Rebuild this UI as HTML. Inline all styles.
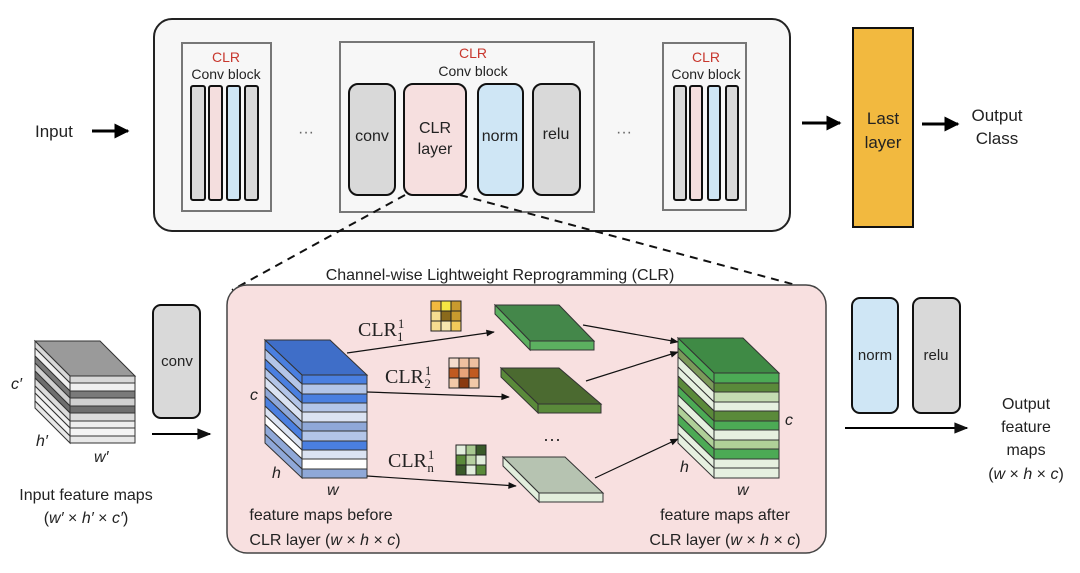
<!DOCTYPE html>
<html><head><meta charset="utf-8"><style>
html,body{margin:0;padding:0;background:#fff;}
svg{display:block;}
text{font-family:"Liberation Sans",sans-serif;fill:#222;}
.s{font-family:"Liberation Serif",serif;}
</style></head><body>
<svg width="1080" height="573" viewBox="0 0 1080 573" xmlns="http://www.w3.org/2000/svg">
<defs>
<marker id="a" viewBox="0 0 10 10" refX="9" refY="5" markerWidth="5" markerHeight="5" orient="auto"><path d="M0,0L10,5L0,10z" fill="#000"/></marker>
<marker id="b" viewBox="0 0 10 10" refX="9" refY="5" markerWidth="9" markerHeight="7" orient="auto"><path d="M0,1L10,5L0,9z" fill="#111"/></marker>
</defs>
<rect width="1080" height="573" fill="#fff"/>
<!-- Top -->
<text x="35" y="137" font-size="17">Input</text>
<line x1="92" y1="131" x2="128" y2="131" stroke="#000" stroke-width="3" marker-end="url(#a)"/>
<rect x="154" y="19" width="636" height="212" rx="18" fill="#f7f7f7" stroke="#222" stroke-width="2"/>
<!-- left block -->
<rect x="182" y="43" width="89" height="168" fill="#f7f7f7" stroke="#777" stroke-width="2"/>
<text x="226" y="62" font-size="14" text-anchor="middle" style="fill:#c8372d">CLR</text>
<text x="226" y="79" font-size="14" text-anchor="middle">Conv block</text>
<rect x="191" y="86" width="14" height="114" rx="2" fill="#d9d9d9" stroke="#111" stroke-width="2"/>
<rect x="209" y="86" width="13" height="114" rx="2" fill="#f4dede" stroke="#111" stroke-width="2"/>
<rect x="227" y="86" width="13" height="114" rx="2" fill="#cfe6f5" stroke="#111" stroke-width="2"/>
<rect x="245" y="86" width="13" height="114" rx="2" fill="#d9d9d9" stroke="#111" stroke-width="2"/>
<text x="306" y="137" font-size="16" text-anchor="middle" style="fill:#666">···</text>
<!-- middle block -->
<rect x="340" y="42" width="254" height="170" fill="#f7f7f7" stroke="#777" stroke-width="2"/>
<text x="473" y="58" font-size="14" text-anchor="middle" style="fill:#c8372d">CLR</text>
<text x="473" y="76" font-size="14" text-anchor="middle">Conv block</text>
<rect x="349" y="84" width="46" height="111" rx="9" fill="#d9d9d9" stroke="#111" stroke-width="2"/>
<rect x="404" y="84" width="62" height="111" rx="9" fill="#f6dfdf" stroke="#111" stroke-width="2"/>
<rect x="478" y="84" width="45" height="111" rx="9" fill="#cfe6f5" stroke="#111" stroke-width="2"/>
<rect x="533" y="84" width="47" height="111" rx="9" fill="#d9d9d9" stroke="#111" stroke-width="2"/>
<text x="372" y="141" font-size="16" text-anchor="middle">conv</text>
<text x="435" y="133" font-size="16" text-anchor="middle">CLR</text>
<text x="435" y="154" font-size="16" text-anchor="middle">layer</text>
<text x="500" y="141" font-size="16" text-anchor="middle">norm</text>
<text x="556" y="139" font-size="16" text-anchor="middle">relu</text>
<text x="624" y="137" font-size="16" text-anchor="middle" style="fill:#666">···</text>
<!-- right block -->
<rect x="663" y="43" width="83" height="167" fill="#f7f7f7" stroke="#777" stroke-width="2"/>
<text x="706" y="62" font-size="14" text-anchor="middle" style="fill:#c8372d">CLR</text>
<text x="706" y="79" font-size="14" text-anchor="middle">Conv block</text>
<rect x="674" y="86" width="12" height="114" rx="2" fill="#d9d9d9" stroke="#111" stroke-width="2"/>
<rect x="690" y="86" width="12" height="114" rx="2" fill="#f4dede" stroke="#111" stroke-width="2"/>
<rect x="708" y="86" width="12" height="114" rx="2" fill="#cfe6f5" stroke="#111" stroke-width="2"/>
<rect x="726" y="86" width="12" height="114" rx="2" fill="#d9d9d9" stroke="#111" stroke-width="2"/>
<line x1="802" y1="123" x2="840" y2="123" stroke="#000" stroke-width="3" marker-end="url(#a)"/>
<rect x="853" y="28" width="60" height="199" fill="#f2b93f" stroke="#111" stroke-width="2"/>
<text x="883" y="124" font-size="17" text-anchor="middle">Last</text>
<text x="883" y="148" font-size="17" text-anchor="middle">layer</text>
<line x1="922" y1="124" x2="958" y2="124" stroke="#000" stroke-width="3" marker-end="url(#a)"/>
<text x="997" y="121" font-size="17" text-anchor="middle">Output</text>
<text x="997" y="144" font-size="17" text-anchor="middle">Class</text>
<!-- dashed -->
<line x1="405" y1="195" x2="232" y2="290" stroke="#111" stroke-width="2" stroke-dasharray="8,6"/>
<line x1="460" y1="195" x2="822" y2="292" stroke="#111" stroke-width="2" stroke-dasharray="8,6"/>
<text x="500" y="280" font-size="16" text-anchor="middle">Channel-wise Lightweight Reprogramming (CLR)</text>
<!-- bottom pink -->
<rect x="227" y="285" width="599" height="268" rx="20" fill="#f8e0e0" stroke="#444" stroke-width="1.5"/>
<!-- input cube -->
<polygon points="35,341 100,341 135,376 70,376" fill="#9a9a9a" stroke="#333"/>
<g stroke="#333" stroke-width="1">
<rect x="70" y="376" width="65" height="7" fill="#d8d8d8"/><polygon points="70,376 70,383 35,348 35,341" fill="#d8d8d8"/>
<rect x="70" y="383" width="65" height="8" fill="#f0f0f0"/><polygon points="70,383 70,391 35,356 35,348" fill="#f0f0f0"/>
<rect x="70" y="391" width="65" height="7" fill="#7a7a7a"/><polygon points="70,391 70,398 35,363 35,356" fill="#7a7a7a"/>
<rect x="70" y="398" width="65" height="8" fill="#d0d0d0"/><polygon points="70,398 70,406 35,371 35,363" fill="#d0d0d0"/>
<rect x="70" y="406" width="65" height="7" fill="#6e6e6e"/><polygon points="70,406 70,413 35,378 35,371" fill="#6e6e6e"/>
<rect x="70" y="413" width="65" height="8" fill="#dcdcdc"/><polygon points="70,413 70,421 35,386 35,378" fill="#dcdcdc"/>
<rect x="70" y="421" width="65" height="7" fill="#eeeeee"/><polygon points="70,421 70,428 35,393 35,386" fill="#eeeeee"/>
<rect x="70" y="428" width="65" height="8" fill="#f4f4f4"/><polygon points="70,428 70,436 35,401 35,393" fill="#f4f4f4"/>
<rect x="70" y="436" width="65" height="7" fill="#e8e8e8"/><polygon points="70,436 70,443 35,408 35,401" fill="#e8e8e8"/>
</g>
<text x="11" y="389" font-size="16" font-style="italic">c′</text>
<text x="36" y="446" font-size="16" font-style="italic">h′</text>
<text x="94" y="462" font-size="16" font-style="italic">w′</text>
<text x="86" y="500" font-size="16" text-anchor="middle">Input feature maps</text>
<text x="86" y="523" font-size="16" text-anchor="middle">(<tspan font-style="italic">w′</tspan> × <tspan font-style="italic">h′</tspan> × <tspan font-style="italic">c′</tspan>)</text>
<rect x="153" y="305" width="47" height="113" rx="8" fill="#d9d9d9" stroke="#111" stroke-width="2"/>
<text x="177" y="366" font-size="15" text-anchor="middle">conv</text>
<line x1="152" y1="434" x2="210" y2="434" stroke="#000" stroke-width="2" marker-end="url(#b)"/>
<!-- blue cube -->
<polygon points="265,340 330,340 367,375 302,375" fill="#3f6ec8" stroke="#333"/>
<g stroke="#333" stroke-width="1">
<rect x="302" y="375" width="65" height="9" fill="#4a7fe0"/><polygon points="302,375 302,384 265,349 265,340" fill="#4a7fe0"/>
<rect x="302" y="384" width="65" height="10" fill="#b3c5e8"/><polygon points="302,384 302,394 265,359 265,349" fill="#b3c5e8"/>
<rect x="302" y="394" width="65" height="9" fill="#4a7fe0"/><polygon points="302,394 302,403 265,368 265,359" fill="#4a7fe0"/>
<rect x="302" y="403" width="65" height="9" fill="#b3c5e8"/><polygon points="302,403 302,412 265,377 265,368" fill="#b3c5e8"/>
<rect x="302" y="412" width="65" height="10" fill="#dbe3f2"/><polygon points="302,412 302,422 265,387 265,377" fill="#dbe3f2"/>
<rect x="302" y="422" width="65" height="9" fill="#8fa8d8"/><polygon points="302,422 302,431 265,396 265,387" fill="#8fa8d8"/>
<rect x="302" y="431" width="65" height="10" fill="#b3c5e8"/><polygon points="302,431 302,441 265,406 265,396" fill="#4a7fe0"/>
<rect x="302" y="441" width="65" height="9" fill="#4a7fe0"/><polygon points="302,441 302,450 265,415 265,406" fill="#dbe3f2"/>
<rect x="302" y="450" width="65" height="9" fill="#dbe3f2"/><polygon points="302,450 302,459 265,424 265,415" fill="#ffffff"/>
<rect x="302" y="459" width="65" height="10" fill="#ffffff"/><polygon points="302,459 302,469 265,434 265,424" fill="#8fa8d8"/>
<rect x="302" y="469" width="65" height="9" fill="#8fa8d8"/><polygon points="302,469 302,478 265,443 265,434" fill="#8fa8d8"/>
</g>
<text x="250" y="400" font-size="16" font-style="italic">c</text>
<text x="272" y="478" font-size="16" font-style="italic">h</text>
<text x="327" y="495" font-size="16" font-style="italic">w</text>
<text x="321" y="520" font-size="16" text-anchor="middle">feature maps before</text>
<text x="325" y="545" font-size="16" text-anchor="middle">CLR layer (<tspan font-style="italic">w</tspan> × <tspan font-style="italic">h</tspan> × <tspan font-style="italic">c</tspan>)</text>
<!-- CLR labels -->
<text class="s" x="358" y="336" font-size="20">CLR<tspan font-size="13" dx="1" dy="-8">1</tspan><tspan font-size="13" dx="-7" dy="13">1</tspan></text>
<text class="s" x="385" y="383" font-size="20">CLR<tspan font-size="13" dx="1" dy="-8">1</tspan><tspan font-size="13" dx="-7" dy="13">2</tspan></text>
<text class="s" x="388" y="467" font-size="20">CLR<tspan font-size="13" dx="1" dy="-8">1</tspan><tspan font-size="13" dx="-7" dy="13">n</tspan></text>
<!-- lines -->
<line x1="347" y1="353" x2="494" y2="332" stroke="#111" stroke-width="1.2" marker-end="url(#b)"/>
<line x1="367" y1="392" x2="509" y2="397" stroke="#111" stroke-width="1.2" marker-end="url(#b)"/>
<line x1="367" y1="476" x2="516" y2="486" stroke="#111" stroke-width="1.2" marker-end="url(#b)"/>
<!-- kernels -->
<g stroke="#222" stroke-width="1">
<rect x="431" y="301" width="10" height="10" fill="#f2b93f"/><rect x="441" y="301" width="10" height="10" fill="#f5e642"/><rect x="451" y="301" width="10" height="10" fill="#c99a2e"/>
<rect x="431" y="311" width="10" height="10" fill="#f6dc90"/><rect x="441" y="311" width="10" height="10" fill="#8a6a1c"/><rect x="451" y="311" width="10" height="10" fill="#c99a2e"/>
<rect x="431" y="321" width="10" height="10" fill="#f6dc90"/><rect x="441" y="321" width="10" height="10" fill="#f7e7b0"/><rect x="451" y="321" width="10" height="10" fill="#f2c95a"/>
<rect x="449" y="358" width="10" height="10" fill="#f5dccc"/><rect x="459" y="358" width="10" height="10" fill="#efc0a0"/><rect x="469" y="358" width="10" height="10" fill="#efc0a0"/>
<rect x="449" y="368" width="10" height="10" fill="#c05a20"/><rect x="459" y="368" width="10" height="10" fill="#e8a47a"/><rect x="469" y="368" width="10" height="10" fill="#c05a20"/>
<rect x="449" y="378" width="10" height="10" fill="#f2c9a8"/><rect x="459" y="378" width="10" height="10" fill="#8a3a10"/><rect x="469" y="378" width="10" height="10" fill="#f2c9a8"/>
<rect x="456" y="445" width="10" height="10" fill="#e2eedc"/><rect x="466" y="445" width="10" height="10" fill="#a8c890"/><rect x="476" y="445" width="10" height="10" fill="#3a5a2a"/>
<rect x="456" y="455" width="10" height="10" fill="#5a8a3a"/><rect x="466" y="455" width="10" height="10" fill="#b6d0a0"/><rect x="476" y="455" width="10" height="10" fill="#e2eedc"/>
<rect x="456" y="465" width="10" height="10" fill="#3a5a2a"/><rect x="466" y="465" width="10" height="10" fill="#e2eedc"/><rect x="476" y="465" width="10" height="10" fill="#5a8a3a"/>
</g>
<!-- slabs -->
<g stroke="#333" stroke-width="1">
<polygon points="495,305 559,305 594,341 530,341" fill="#44874a"/>
<polygon points="495,305 530,341 530,350 495,314" fill="#5cb060"/>
<rect x="530" y="341" width="64" height="9" fill="#5cb060"/>
<polygon points="501,368 559,368 601,404 538,404" fill="#4b6a30"/>
<polygon points="501,368 538,404 538,413 501,377" fill="#5a8a3a"/>
<rect x="538" y="404" width="63" height="9" fill="#5a8a3a"/>
<polygon points="503,457 565,457 603,493 539,493" fill="#b6c3b1"/>
<polygon points="503,457 539,493 539,502 503,466" fill="#e2eedc"/>
<rect x="539" y="493" width="64" height="9" fill="#e2eedc"/>
</g>
<text x="552" y="445" font-size="18" text-anchor="middle">···</text>
<line x1="583" y1="325" x2="678" y2="342" stroke="#111" stroke-width="1.2" marker-end="url(#b)"/>
<line x1="586" y1="381" x2="678" y2="352" stroke="#111" stroke-width="1.2" marker-end="url(#b)"/>
<line x1="595" y1="478" x2="678" y2="439" stroke="#111" stroke-width="1.2" marker-end="url(#b)"/>
<!-- green cube -->
<polygon points="678,338 743,338 779,373 714,373" fill="#3f8a45" stroke="#333"/>
<g stroke="#333" stroke-width="1">
<rect x="714" y="373" width="65" height="10" fill="#4caa55"/><polygon points="714,373 714,383 678,348 678,338" fill="#4caa55"/>
<rect x="714" y="383" width="65" height="9" fill="#5a8a3a"/><polygon points="714,383 714,392 678,357 678,348" fill="#7a9a5a"/>
<rect x="714" y="392" width="65" height="10" fill="#c4dcb2"/><polygon points="714,392 714,402 678,367 678,357" fill="#e6f0e0"/>
<rect x="714" y="402" width="65" height="9" fill="#e6f0e0"/><polygon points="714,402 714,411 678,376 678,367" fill="#e6f0e0"/>
<rect x="714" y="411" width="65" height="10" fill="#5a8a3a"/><polygon points="714,411 714,421 678,386 678,376" fill="#5a8a3a"/>
<rect x="714" y="421" width="65" height="9" fill="#4caa55"/><polygon points="714,421 714,430 678,395 678,386" fill="#4caa55"/>
<rect x="714" y="430" width="65" height="10" fill="#e6f0e0"/><polygon points="714,430 714,440 678,405 678,395" fill="#e6f0e0"/>
<rect x="714" y="440" width="65" height="9" fill="#b0d098"/><polygon points="714,440 714,449 678,414 678,405" fill="#b0d098"/>
<rect x="714" y="449" width="65" height="10" fill="#4caa55"/><polygon points="714,449 714,459 678,424 678,414" fill="#4caa55"/>
<rect x="714" y="459" width="65" height="9" fill="#e6f0e0"/><polygon points="714,459 714,468 678,433 678,424" fill="#e6f0e0"/>
<rect x="714" y="468" width="65" height="10" fill="#e6f0e0"/><polygon points="714,468 714,478 678,443 678,433" fill="#e6f0e0"/>
</g>
<text x="785" y="425" font-size="16" font-style="italic">c</text>
<text x="680" y="472" font-size="16" font-style="italic">h</text>
<text x="737" y="495" font-size="16" font-style="italic">w</text>
<text x="725" y="520" font-size="16" text-anchor="middle">feature maps after</text>
<text x="725" y="545" font-size="16" text-anchor="middle">CLR layer (<tspan font-style="italic">w</tspan> × <tspan font-style="italic">h</tspan> × <tspan font-style="italic">c</tspan>)</text>
<!-- right -->
<rect x="852" y="298" width="46" height="115" rx="8" fill="#cfe6f5" stroke="#111" stroke-width="2"/>
<rect x="913" y="298" width="47" height="115" rx="8" fill="#d9d9d9" stroke="#111" stroke-width="2"/>
<text x="875" y="360" font-size="15" text-anchor="middle">norm</text>
<text x="936" y="360" font-size="15" text-anchor="middle">relu</text>
<line x1="845" y1="428" x2="967" y2="428" stroke="#000" stroke-width="2" marker-end="url(#b)"/>
<text x="1026" y="409" font-size="16" text-anchor="middle">Output</text>
<text x="1026" y="432" font-size="16" text-anchor="middle">feature</text>
<text x="1026" y="455" font-size="16" text-anchor="middle">maps</text>
<text x="1026" y="479" font-size="16" text-anchor="middle">(<tspan font-style="italic">w</tspan> × <tspan font-style="italic">h</tspan> × <tspan font-style="italic">c</tspan>)</text>
</svg>
</body></html>
